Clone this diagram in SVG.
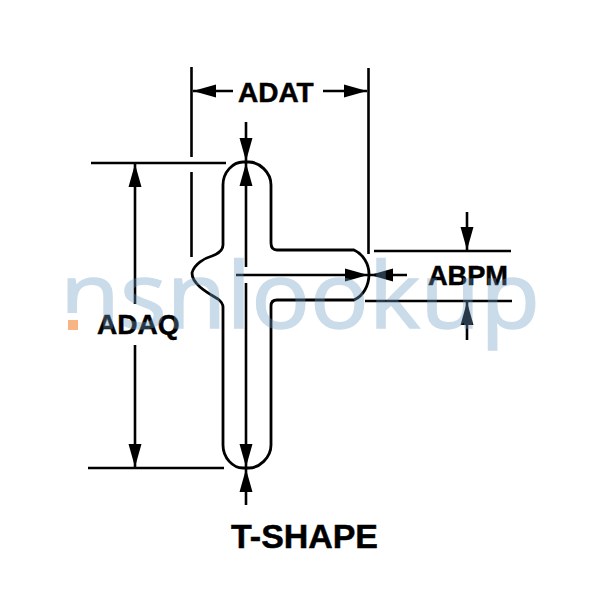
<svg xmlns="http://www.w3.org/2000/svg" width="600" height="600" viewBox="0 0 600 600">
<style>
.l{fill:none;stroke:#000;stroke-width:2.6}
.o{fill:none;stroke:#000;stroke-width:2.8;stroke-linejoin:round}
.t{font-family:"Liberation Sans",Arial,sans-serif;font-weight:bold;fill:#000;stroke:#000;stroke-width:.5}
.w{font-family:"Open Sans",sans-serif;font-size:92px;fill:#6f9cc4;opacity:.36;stroke:#6f9cc4;stroke-width:1.5}
</style>
<defs>
<marker id="a" markerUnits="userSpaceOnUse" markerWidth="24" markerHeight="14" refX="23" refY="6.5" orient="auto-start-reverse" viewBox="0 0 24 13"><path d="M0 0L23 6.5L0 13z" fill="#000"/></marker>
</defs>
<rect width="600" height="600" fill="#fff"/>
<g id="t-shape">
<path class="o" d="M223 185C223 172 233 162 243 162H249C259 162 271 172 271 185V243Q271 250 277 250H354C363 254 369 264 369 274C369 286 363 296 354 300H277Q271 300 271 306V445C271 458 259 468 249 468H243C233 468 223 458 223 445V307Q223 303 218 299C210 294 192 285 192 273C194 264 205 258 212 256Q223 252 223 245Z"/>
</g>
<g id="connectors">
<path class="l" d="M191.500 67V157M191.500 172V257M368.500 68V254M91 163H226M88 468H224M374 251H511M365 301H512"/>
<path class="l" marker-end="url(#a)" d="M233 91H193"/>
<path class="l" marker-end="url(#a)" d="M323 91H367"/>
<path class="l" marker-end="url(#a)" d="M135 304V164"/>
<path class="l" marker-end="url(#a)" d="M135 345V467"/>
<path class="l" marker-end="url(#a)" d="M246 122V161"/>
<path class="l" marker-end="url(#a)" d="M246 267V163"/>
<path class="l" marker-end="url(#a)" d="M246 283V467"/>
<path class="l" marker-end="url(#a)" d="M246 505V469"/>
<path class="l" marker-end="url(#a)" d="M236 275H368"/>
<path class="l" marker-end="url(#a)" d="M407 275H370"/>
<path class="l" marker-end="url(#a)" d="M467 212V250"/>
<path class="l" marker-end="url(#a)" d="M467 340V302"/>
</g>
<g id="label-adat"><text class="t" x="238" y="102" font-size="28">ADAT</text></g>
<g id="label-adaq"><text class="t" x="97" y="334" font-size="28">ADAQ</text></g>
<g id="label-abpm"><text class="t" x="428" y="285" font-size="28" textLength="80" lengthAdjust="spacingAndGlyphs">ABPM</text></g>
<g id="label-title"><text class="t" x="231" y="548" font-size="34" textLength="147" lengthAdjust="spacingAndGlyphs">T-SHAPE</text></g>
<g id="watermark">
<text class="w" x="60" y="328" textLength="480" lengthAdjust="spacingAndGlyphs">nsnlookup</text>
<rect x="62" y="313" width="20" height="19" fill="#fff"/>
<rect x="68" y="320" width="10" height="10" fill="#f9b483"/>
</g>
</svg>
